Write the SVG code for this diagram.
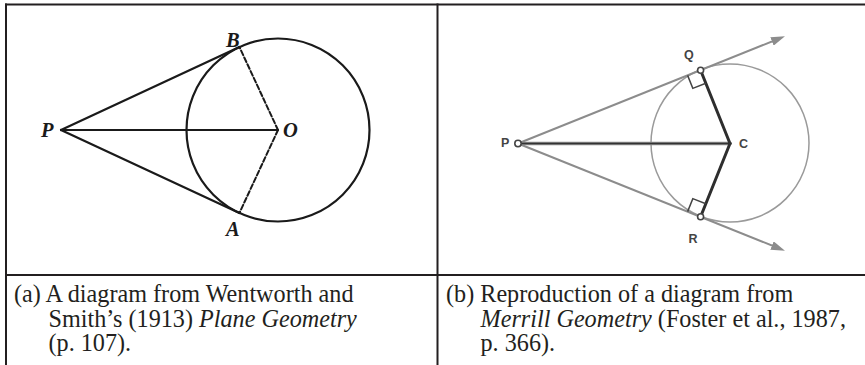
<svg xmlns="http://www.w3.org/2000/svg" width="865" height="365" viewBox="0 0 865 365">
  <style>
    .rule { stroke: #231f20; stroke-width: 2; fill: none; }
    .ink { stroke: #1a1a1a; fill: none; stroke-linecap: round; }
    .lblA { font-family: "Liberation Serif", "Times New Roman", serif; font-weight: bold; font-style: italic; font-size: 20.5px; fill: #1a1a1a; }
    .lblB { font-family: "Liberation Sans", Arial, sans-serif; font-weight: bold; font-size: 12.5px; fill: #444; }
    .cap { font-family: "Liberation Serif", "Times New Roman", serif; font-size: 24.2px; fill: #231f20; }
    .it { font-style: italic; }
    .ray { stroke: #8c8c8c; stroke-width: 2; fill: none; }
    .dot { fill: #fff; stroke: #444; stroke-width: 1.6; }
  </style>
  <defs>
    <marker id="arr" markerUnits="userSpaceOnUse" markerWidth="14" markerHeight="9" viewBox="0 0 14 9" refX="8" refY="4.5" orient="auto">
      <path d="M0,0 L14,4.5 L0,9 z" fill="#8c8c8c"/>
    </marker>
  </defs>
  <rect width="865" height="365" fill="#fff"/>

  <!-- table rules -->
  <g id="table">
    <line class="rule" x1="5" y1="4.5" x2="865" y2="4.5"/>
    <line class="rule" x1="6" y1="3.5" x2="6" y2="365"/>
    <line class="rule" x1="437.5" y1="3.5" x2="437.5" y2="365"/>
    <line class="rule" x1="5" y1="275" x2="865" y2="275"/>
  </g>

  <!-- (a) Wentworth & Smith -->
  <g id="circleO">
    <circle class="ink" cx="278" cy="130" r="91.5" stroke-width="2.2"/>
  </g>
  <g id="ptP_a"><text class="lblA" x="41" y="137">P</text></g>
  <g id="ptB"><text class="lblA" x="226" y="47">B</text></g>
  <g id="ptO"><text class="lblA" x="283" y="137">O</text></g>
  <g id="ptA"><text class="lblA" x="226" y="236">A</text></g>
  <g id="connectors-a">
    <line class="ink" x1="61" y1="130" x2="239.4" y2="47" stroke-width="2.2"/>
    <line class="ink" x1="61" y1="130" x2="239.4" y2="213" stroke-width="2.2"/>
    <line class="ink" x1="61" y1="130" x2="278" y2="130" stroke-width="1.8"/>
    <line class="ink" x1="278" y1="130" x2="239.4" y2="47" stroke-width="2" stroke-dasharray="5 2.5" stroke-linecap="butt"/>
    <line class="ink" x1="278" y1="130" x2="239.4" y2="213" stroke-width="2" stroke-dasharray="5 2.5" stroke-linecap="butt"/>
  </g>

  <!-- (b) Merrill Geometry -->
  <g id="circleC">
    <circle cx="730" cy="143" r="79" fill="none" stroke="#9a9a9a" stroke-width="1.5"/>
  </g>
  <g id="connectors-b">
    <line class="ray" x1="518" y1="143.5" x2="779.4" y2="38.5" marker-end="url(#arr)"/>
    <line class="ray" x1="518" y1="143.5" x2="779.4" y2="248.5" marker-end="url(#arr)"/>
    <line x1="518" y1="143.5" x2="730" y2="143.5" stroke="#8c8c8c" stroke-width="3.4"/>
    <line x1="518" y1="143.5" x2="730" y2="143.5" stroke="#333" stroke-width="1.6"/>
    <polyline points="700.6,70.2 730,143.5 700.6,216.8" fill="none" stroke="#2e2e2e" stroke-width="3" stroke-linejoin="round"/>
    <polyline points="687.6,75.4 692.8,88.4 705.8,83.2" fill="none" stroke="#444" stroke-width="1.5"/>
    <polyline points="687.6,211.6 692.8,198.6 705.8,203.8" fill="none" stroke="#444" stroke-width="1.5"/>
  </g>
  <g id="ptP_b">
    <circle class="dot" cx="518" cy="143.5" r="3.2"/>
    <text class="lblB" x="501" y="146.5">P</text>
  </g>
  <g id="ptQ">
    <circle class="dot" cx="700.6" cy="70.2" r="3"/>
    <text class="lblB" x="684" y="58.5">Q</text>
  </g>
  <g id="ptC">
    <circle cx="730" cy="143.5" r="1.8" fill="#333"/>
    <text class="lblB" x="739" y="148">C</text>
  </g>
  <g id="ptR">
    <circle class="dot" cx="700.6" cy="216.8" r="3"/>
    <text class="lblB" x="688.5" y="242.5">R</text>
  </g>

  <!-- captions -->
  <g id="caption-a">
    <text class="cap" x="14" y="302">(a) A diagram from Wentworth and</text>
    <text class="cap" x="48.5" y="326.5">Smith’s (1913) <tspan class="it">Plane Geometry</tspan></text>
    <text class="cap" x="48.5" y="351">(p. 107).</text>
  </g>
  <g id="caption-b">
    <text class="cap" x="446" y="302">(b) Reproduction of a diagram from</text>
    <text class="cap" x="480.5" y="326.5"><tspan class="it">Merrill Geometry</tspan> (Foster et al., 1987,</text>
    <text class="cap" x="480.5" y="351">p. 366).</text>
  </g>
</svg>
